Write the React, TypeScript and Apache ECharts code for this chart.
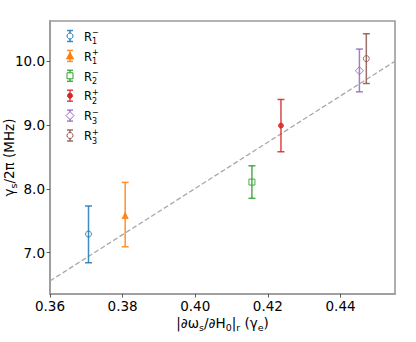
import React, { useEffect, useRef } from "react";
import * as echarts from "echarts";

const supSigns = ["−", "+", "−", "+", "−", "+"];
const subDigits = ["1", "1", "2", "2", "3", "3"];
const xValues = [0.3706, 0.3807, 0.4156, 0.4236, 0.4452, 0.4471];
const yValues = [7.29, 7.58, 8.105, 8.99, 9.85, 10.04];
const yLow = [6.84, 7.09, 7.85, 8.58, 9.52, 9.65];
const yHigh = [7.73, 8.1, 8.36, 9.4, 10.19, 10.43];
const colors = ["#1f77b4", "#ff7f0e", "#2ca02c", "#d62728", "#9467bd", "#8c564b"];
const symbols = ["circle", "triangle", "rect", "circle", "diamond", "circle"];
const filled = [false, true, false, true, false, false];
const fitX = [0.36, 0.455];
const fitY = [6.555, 10.0];
const yTicks = [7, 8, 9, 10];

const FONT = "DejaVu Sans";

function legendMarker(sym: string, c: string, fill: boolean) {
  const style = { stroke: c, fill: fill ? c : "#fff", lineWidth: 1 };
  if (sym === "circle") return { type: "circle", shape: { cx: 0, cy: 0, r: fill ? 2.5 : 3 }, style };
  if (sym === "rect") return { type: "rect", shape: { x: -3, y: -3, width: 6, height: 6 }, style };
  if (sym === "triangle")
    return { type: "polygon", shape: { points: [[0, -3.5], [3.5, 3], [-3.5, 3]] }, style };
  return { type: "polygon", shape: { points: [[0, -4], [4, 0], [0, 4], [-4, 0]] }, style };
}

export default function App() {
  const ref = useRef<HTMLDivElement>(null);
  useEffect(() => {
    if (!ref.current) return;
    const chart = echarts.init(ref.current, undefined, { renderer: "svg" });

    const scatterSeries = xValues.map((x, i) => ({
      type: "scatter",
      name: "R" + subDigits[i] + supSigns[i],
      data: [[x, yValues[i]]],
      symbol: symbols[i],
      symbolSize: symbols[i] === "diamond" ? 8 : filled[i] && symbols[i] === "circle" ? 5 : 6,
      z: 5,
      itemStyle: {
        color: filled[i] ? colors[i] : "rgba(255,255,255,0)",
        borderColor: colors[i],
        borderWidth: 1,
        opacity: 0.85,
      },
    }));

    const legendRows = xValues.map((_, i) => {
      const rowY = 36 + 19.9 * i;
      const c = colors[i];
      const ls = { stroke: c, lineWidth: 1.5, opacity: 0.85 };
      return {
        type: "group",
        x: 70,
        y: rowY,
        children: [
          { type: "line", shape: { x1: 0, y1: -5.5, x2: 0, y2: 5.5 }, style: ls },
          { type: "line", shape: { x1: -3, y1: -5.5, x2: 3, y2: -5.5 }, style: ls },
          { type: "line", shape: { x1: -3, y1: 5.5, x2: 3, y2: 5.5 }, style: ls },
          legendMarker(symbols[i], c, filled[i]),
          {
            type: "text",
            x: 14,
            y: 0.7,
            style: { text: "R", fontFamily: FONT, fontSize: 11.5, fill: "#000", verticalAlign: "middle", align: "left" },
          },
          {
            type: "text",
            x: 22,
            y: -7.5,
            style: { text: supSigns[i], fontFamily: FONT, fontSize: 8, fill: "#000", verticalAlign: "top", align: "left" },
          },
          {
            type: "text",
            x: 22,
            y: 1.5,
            style: { text: subDigits[i], fontFamily: FONT, fontSize: 8, fill: "#000", verticalAlign: "top", align: "left" },
          },
        ],
      };
    });

    const richName = {
      m: { fontFamily: FONT, fontSize: 13.5, color: "#000", lineHeight: 18 },
      s: { fontFamily: FONT, fontSize: 9.5, color: "#000", lineHeight: 10, verticalAlign: "bottom" },
    };

    chart.setOption({
      animation: false,
      grid: {
        left: 50,
        right: 21,
        top: 21,
        bottom: 48,
        outerBoundsMode: "none",
        containLabel: false,
        show: true,
        borderColor: "#9a9a9a",
        borderWidth: 1.6,
        backgroundColor: "transparent",
      },
      xAxis: {
        type: "value",
        min: 0.36,
        max: 0.455,
        interval: 0.02,
        axisLine: { show: true, lineStyle: { color: "#9a9a9a", width: 1.6 } },
        axisTick: { show: true, length: 3.5, lineStyle: { color: "#333", width: 0.8 } },
        splitLine: { show: false },
        axisLabel: {
          formatter: (v: number) => v.toFixed(2),
          fontFamily: FONT,
          fontSize: 13.5,
          color: "#000",
          margin: 5,
          showMaxLabel: false,
        },
        name: "{m||∂ω}{s|s}{m|/∂H}{s|0}{m||}{s|r}{m| (γ}{s|e}{m|)}",
        nameLocation: "middle",
        nameGap: 20,
        nameMoveOverlap: false,
        nameTextStyle: { rich: richName, color: "#000", verticalAlign: "top" },
      },
      yAxis: {
        type: "value",
        min: 6.35,
        max: 10.63,
        axisLine: { show: true, lineStyle: { color: "#9a9a9a", width: 1.6 } },
        axisTick: { show: true, length: 3.5, customValues: yTicks, lineStyle: { color: "#333", width: 0.8 } },
        splitLine: { show: false },
        axisLabel: {
          customValues: yTicks,
          formatter: (v: number) => v.toFixed(1),
          fontFamily: FONT,
          fontSize: 13.5,
          color: "#000",
          margin: 5,
        },
        name: "{m|γ}{s|s}{m|/2π (MHz)}",
        nameLocation: "middle",
        nameGap: 32,
        nameMoveOverlap: false,
        nameTextStyle: { rich: richName, color: "#000" },
      },
      series: [
        {
          type: "line",
          data: fitX.map((x, i) => [x, fitY[i]]),
          symbol: "none",
          z: 1,
          lineStyle: { color: "#a8a8a8", width: 1.3, type: [5, 2.5] },
        },
        {
          type: "custom",
          z: 4,
          data: xValues.map((x, i) => [x, yLow[i], yHigh[i], i]),
          encode: { x: 0, y: [1, 2] },
          renderItem: (params: any, api: any) => {
            const x = api.value(0);
            const p1 = api.coord([x, api.value(1)]);
            const p2 = api.coord([x, api.value(2)]);
            const c = colors[api.value(3)];
            const style = { stroke: c, lineWidth: 1.5, opacity: 0.85 };
            return {
              type: "group",
              children: [
                { type: "line", shape: { x1: p1[0], y1: p1[1], x2: p2[0], y2: p2[1] }, style },
                { type: "line", shape: { x1: p1[0] - 3.5, y1: p1[1], x2: p1[0] + 3.5, y2: p1[1] }, style },
                { type: "line", shape: { x1: p2[0] - 3.5, y1: p2[1], x2: p2[0] + 3.5, y2: p2[1] }, style },
              ],
            };
          },
        },
        ...scatterSeries,
      ],
      graphic: legendRows,
    });
    return () => chart.dispose();
  }, []);
  return (
    <div
      ref={ref}
      style={{ position: "fixed", left: 0, top: 0, width: 416, height: 342, background: "#fff" }}
    />
  );
}
